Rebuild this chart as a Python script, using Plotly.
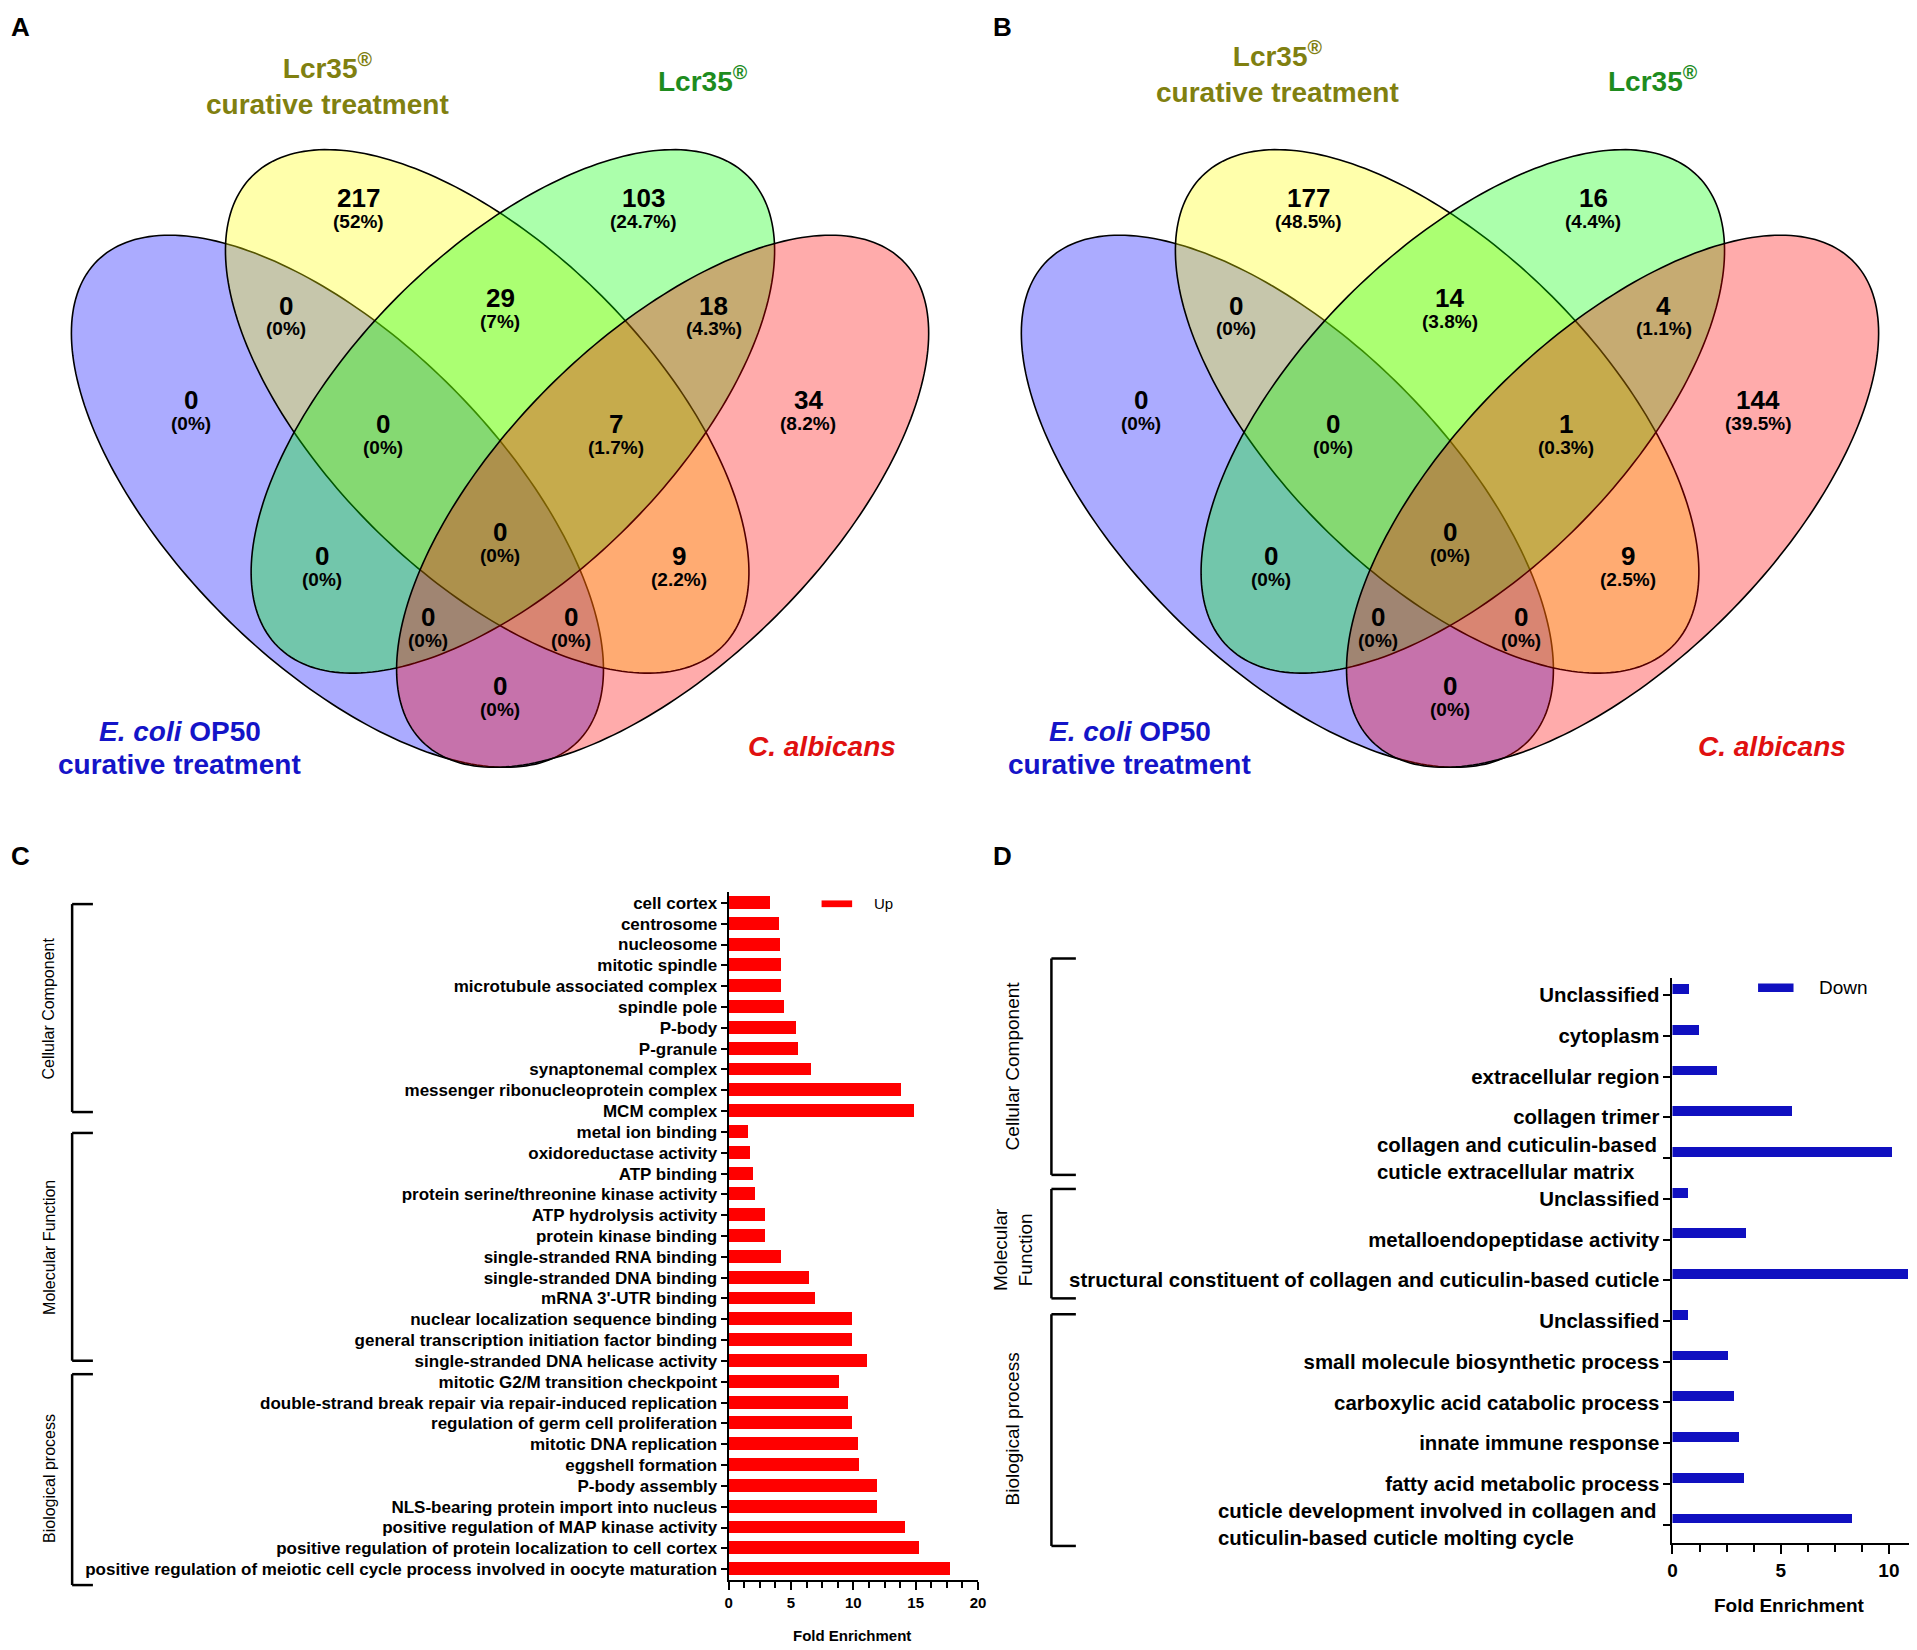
import numpy as np
import plotly.graph_objects as go

W, H = 1917, 1650
DW = 1568.0
DH = DW * H / W
OFF = 8 * DW / W  # page body margin (8 px) expressed in display px

def PX(x):
    return (x - OFF) / DW

def PY(y):
    return 1 - (y - OFF) / DH

FONT = "Liberation Sans, Arial, sans-serif"

# ---------------- data ----------------
venn_regions = ["B", "BY", "Y", "YG", "G", "GR", "R", "BYG", "YGR", "BG", "BYGR", "YR", "BGR", "BYR", "BR"]
counts_A = [0, 0, 217, 29, 103, 18, 34, 0, 7, 0, 0, 9, 0, 0, 0]
pct_A = ["0%", "0%", "52%", "7%", "24.7%", "4.3%", "8.2%", "0%", "1.7%", "0%", "0%", "2.2%", "0%", "0%", "0%"]
counts_B = [0, 0, 177, 14, 16, 4, 144, 0, 1, 0, 0, 9, 0, 0, 0]
pct_B = ["0%", "0%", "48.5%", "3.8%", "4.4%", "1.1%", "39.5%", "0%", "0.3%", "0%", "0%", "2.5%", "0%", "0%", "0%"]

up_terms = [
    "cell cortex", "centrosome", "nucleosome", "mitotic spindle", "microtubule associated complex",
    "spindle pole", "P-body", "P-granule", "synaptonemal complex", "messenger ribonucleoprotein complex",
    "MCM complex",
    "metal ion binding", "oxidoreductase activity", "ATP binding", "protein serine/threonine kinase activity",
    "ATP hydrolysis activity", "protein kinase binding", "single-stranded RNA binding",
    "single-stranded DNA binding", "mRNA 3'-UTR binding", "nuclear localization sequence binding",
    "general transcription initiation factor binding", "single-stranded DNA helicase activity",
    "mitotic G2/M transition checkpoint", "double-strand break repair via repair-induced replication",
    "regulation of germ cell proliferation", "mitotic DNA replication", "eggshell formation",
    "P-body assembly", "NLS-bearing protein import into nucleus",
    "positive regulation of MAP kinase activity",
    "positive regulation of protein localization to cell cortex",
    "positive regulation of meiotic cell cycle process involved in oocyte maturation",
]
up_values = [3.25, 4.0, 4.05, 4.2, 4.2, 4.45, 5.4, 5.5, 6.6, 13.8, 14.8,
             1.5, 1.7, 1.9, 2.1, 2.9, 2.9, 4.2, 6.4, 6.9, 9.9, 9.9, 11.1,
             8.8, 9.55, 9.9, 10.35, 10.4, 11.85, 11.85, 14.1, 15.2, 17.7]

down_terms = [
    "Unclassified", "cytoplasm", "extracellular region", "collagen trimer",
    "collagen and cuticulin-based<br>cuticle extracellular matrix",
    "Unclassified", "metalloendopeptidase activity",
    "structural constituent of collagen and cuticulin-based cuticle",
    "Unclassified", "small molecule biosynthetic process", "carboxylic acid catabolic process",
    "innate immune response", "fatty acid metabolic process",
    "cuticle development involved in collagen and<br>cuticulin-based cuticle molting cycle",
]
down_values = [0.8, 1.25, 2.1, 5.55, 10.15, 0.72, 3.4, 10.9, 0.75, 2.6, 2.85, 3.1, 3.35, 8.3]

up_x_ticks = [0, 5, 10, 15, 20]
down_x_ticks = [0, 5, 10]

# ---------------- figure ----------------
fig = go.Figure()
fig.add_trace(go.Bar(
    x=up_values, y=list(range(len(up_terms))), orientation="h",
    marker=dict(color="#FF0000", line=dict(width=0)), width=0.62,
    xaxis="x", yaxis="y", showlegend=False))
fig.add_trace(go.Bar(
    x=down_values, y=list(range(len(down_terms))), orientation="h",
    marker=dict(color="#1010C0", line=dict(width=0)), width=0.24, offset=-0.27,
    xaxis="x2", yaxis="y2", showlegend=False))

axis_common = dict(showline=True, linecolor="black", linewidth=2, ticks="outside",
                   tickcolor="black", tickwidth=2, showgrid=False, zeroline=False,
                   automargin=False)

# single-line D labels are tick labels; multi-line ones are left-aligned blocks next to a tick
single_idx = [i for i, t in enumerate(down_terms) if "<br>" not in t]
multi_idx = [i for i, t in enumerate(down_terms) if "<br>" in t]

fig.update_layout(
    width=W, height=H, margin=dict(l=0, r=0, t=0, b=0),
    paper_bgcolor="white", plot_bgcolor="white",
    bargap=0,
    xaxis=dict(domain=[PX(596), PX(800)], range=[0, 20], anchor="y",
               tickvals=up_x_ticks, ticklen=8,
               minor=dict(dtick=1.25, ticks="outside", ticklen=6, tickwidth=2, tickcolor="black"),
               tickfont=dict(family=FONT, size=15, color="black", weight="bold"), **axis_common),
    yaxis=dict(domain=[PY(1292), PY(730)], range=[len(up_terms) - 0.5, -0.5], anchor="x",
               tickvals=list(range(len(up_terms))), ticktext=up_terms, ticklen=6,
               tickfont=dict(family=FONT, size=17, color="black", weight="bold"), **axis_common),
    xaxis2=dict(domain=[PX(1368), PX(1562.7)], range=[0, 11], anchor="y2",
                tickvals=down_x_ticks, ticklen=9,
                minor=dict(dtick=1.25, ticks="outside", ticklen=7, tickwidth=2, tickcolor="black"),
                tickfont=dict(family=FONT, size=19, color="black", weight="bold"), **axis_common),
    yaxis2=dict(domain=[PY(1262), PY(800)], range=[13.45, -0.42], anchor="x2",
                tickvals=single_idx, ticktext=[down_terms[i] for i in single_idx], ticklen=7,
                minor=dict(tickvals=multi_idx, ticks="outside", ticklen=7, tickwidth=2, tickcolor="black"),
                tickfont=dict(family=FONT, size=20.4, color="black", weight="bold"), **axis_common),
)

shapes = []
annotations = []

def ann(x, y, text, size, color="black", bold=True, xanchor="center", angle=0, align="center"):
    annotations.append(dict(
        x=PX(x), y=PY(y), xref="paper", yref="paper", text=text, showarrow=False,
        xanchor=xanchor, yanchor="middle", textangle=angle, align=align,
        font=dict(family=FONT, size=size, color=color, weight="bold" if bold else "normal")))

for i in multi_idx:
    annotations.append(dict(
        x=PX(1357), y=i, xref="paper", yref="y2", text=down_terms[i], showarrow=False,
        xanchor="right", yanchor="middle", align="left",
        font=dict(family=FONT, size=20.4, color="black", weight="bold")))

# ---------------- Venn diagrams ----------------
def ellipse_path(cx, cy, a, b, ang):
    t = np.linspace(0, 2 * np.pi, 241)
    c, s = np.cos(np.radians(ang)), np.sin(np.radians(ang))
    xs = cx + a * np.cos(t) * c - b * np.sin(t) * s
    ys = cy + a * np.cos(t) * s + b * np.sin(t) * c
    pts = [f"{PX(xx):.5f},{PY(yy):.5f}" for xx, yy in zip(xs, ys)]
    return "M " + " L ".join(pts) + " Z"

ellipses = [  # (cx, cy, a, b, angle, fill) in panel-A display px
    (276, 410, 278, 132, 45, "rgba(0,0,255,0.33)"),
    (398.5, 336.5, 272, 133, 45, "rgba(255,255,0,0.33)"),
    (419.5, 336.5, 272, 133, -45, "rgba(0,255,0,0.33)"),
    (542, 410, 278, 132, -45, "rgba(255,0,0,0.33)"),
]

region_pos = {
    "B": (156, 327), "BY": (234, 250), "Y": (293, 162), "YG": (409, 244), "G": (526, 162),
    "GR": (584, 250), "R": (661, 327), "BYG": (313, 347), "YGR": (504, 347), "BG": (263, 455),
    "BYGR": (409, 435), "YR": (555, 455), "BGR": (350, 505), "BYR": (467, 505), "BR": (409, 561),
}

for dx, counts, pcts, ytit in [(0, counts_A, pct_A, 68.5), (777, counts_B, pct_B, 59)]:
    for cx, cy, a, b, ang, fill in ellipses:
        shapes.append(dict(type="path", xref="paper", yref="paper",
                           path=ellipse_path(cx + dx, cy, a, b, ang),
                           fillcolor=fill, line=dict(color="black", width=1.6)))
    for reg, n, p in zip(venn_regions, counts, pcts):
        x, y = region_pos[reg]
        ann(x + dx, y, str(n), 26)
        ann(x + dx, y + 19, f"({p})", 19)
    ann(268 + dx, ytit, "Lcr35<sup>®</sup><br>curative treatment", 28, color="#808010")
    ann(575 + dx, 65, "Lcr35<sup>®</sup>", 28, color="#1E8C1E")
    ann(147 + dx, 598.5, "<i>E. coli</i> OP50", 28, color="#1414C8")
    ann(147 + dx, 625.7, "curative treatment", 28, color="#1414C8")
    ann(672 + dx, 611, "<i>C. albicans</i>", 28, color="#E01010")

# panel letters
for letter, x, y in [("A", 17, 22), ("B", 820, 22), ("C", 17, 700), ("D", 820, 700)]:
    ann(x, y, letter, 26)

# ---------------- brackets ----------------
def bracket(x0, x1, y0, y1, w=2.5):
    for xa, ya, xb, yb in [(x0, y0, x0, y1), (x0, y0, x1, y0), (x0, y1, x1, y1)]:
        shapes.append(dict(type="line", xref="paper", yref="paper",
                           x0=PX(xa), y0=PY(ya), x1=PX(xb), y1=PY(yb),
                           line=dict(color="black", width=w)))

# panel C groups
bracket(59, 76, 739.5, 909.6)
bracket(59, 76, 926.7, 1113)
bracket(59, 76, 1124, 1296.5)
ann(40, 825, "Cellular Component", 16, bold=False, angle=-90)
ann(40, 1020, "Molecular Function", 16, bold=False, angle=-90)
ann(40, 1209, "Biological process", 16, bold=False, angle=-90)

# panel D groups
bracket(860, 880, 784, 961)
bracket(860, 880, 972.5, 1062)
bracket(860, 880, 1075, 1264.5)
ann(828, 872, "Cellular Component", 19, bold=False, angle=-90)
ann(829, 1022, "Molecular<br>Function", 19, bold=False, angle=-90)
ann(828, 1169, "Biological process", 19, bold=False, angle=-90)

# axis titles
ann(697, 1338, "Fold Enrichment", 15)
ann(1464, 1313, "Fold Enrichment", 19)

# legends
shapes.append(dict(type="rect", xref="paper", yref="paper", x0=PX(672), x1=PX(697),
                   y0=PY(742), y1=PY(736.5), fillcolor="#FF0000", line=dict(width=0)))
ann(713, 739, "Up", 15, bold=False, xanchor="left")
shapes.append(dict(type="rect", xref="paper", yref="paper", x0=PX(1438), x1=PX(1467),
                   y0=PY(811.5), y1=PY(804.5), fillcolor="#1010C0", line=dict(width=0)))
ann(1486, 808, "Down", 19, bold=False, xanchor="left")

fig.update_layout(shapes=shapes, annotations=annotations)
fig.write_html("out.html")
